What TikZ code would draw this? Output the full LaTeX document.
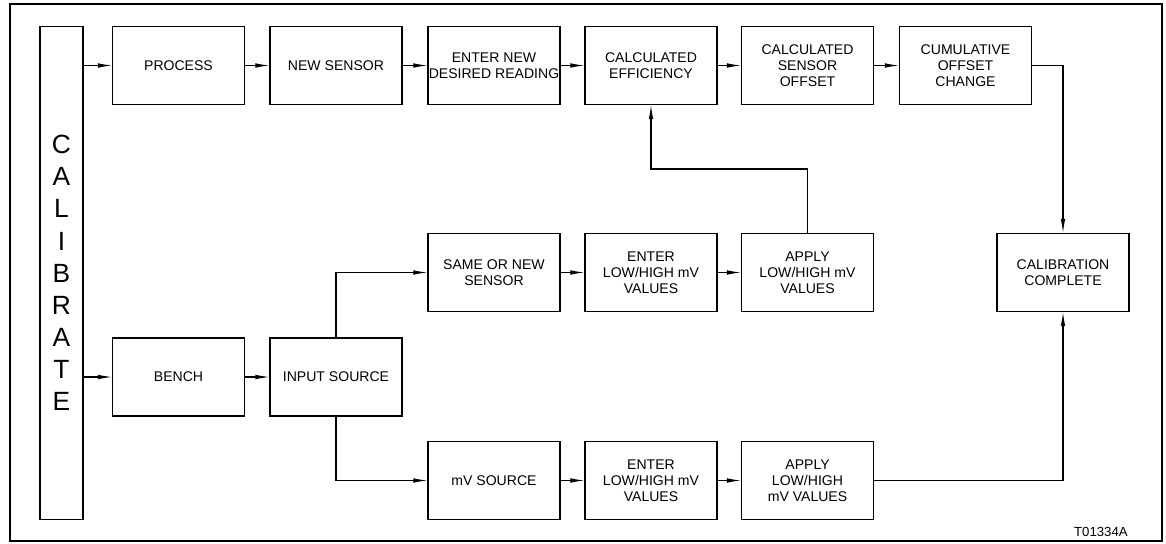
\documentclass[tikz,border=0pt]{standalone}
\usepackage{fontspec}
\setmainfont{Liberation Sans}
\usetikzlibrary{arrows.meta}
\begin{document}
\begin{tikzpicture}[x=0.02cm,y=-0.02cm,line width=0.6pt,
  >={Latex[length=8pt,width=2.6pt]},
  blk/.style={draw,minimum width=2.64cm,minimum height=1.56cm,inner sep=0pt,align=center,
    font=\fontsize{8}{9}\selectfont},
  calbar/.style={draw,minimum width=0.86cm,minimum height=9.88cm,inner sep=0pt,align=center,
    font=\fontsize{15}{18.3}\selectfont}]
\useasboundingbox (0,0) rectangle (1166,544);
\draw (10,4) rectangle (1162,541);
\node[calbar] (cal) at (61.5,273) {C\\A\\L\\I\\B\\R\\A\\T\\E};
\node[blk] (proc) at (178.5,65.5) {PROCESS};
\node[blk] (newsens) at (336,65.5) {NEW SENSOR};
\node[blk] (desired) at (494,65.5) {ENTER NEW\\DESIRED READING};
\node[blk] (calceff) at (651,65.5) {CALCULATED\\EFFICIENCY};
\node[blk] (calcoff) at (807.5,65.5) {CALCULATED\\SENSOR\\OFFSET};
\node[blk] (cumoff) at (965.5,65.5) {CUMULATIVE\\OFFSET\\CHANGE};
\node[blk] (samenew) at (494,272.5) {SAME OR NEW\\SENSOR};
\node[blk] (enterA) at (651,272.5) {ENTER\\LOW/HIGH mV\\VALUES};
\node[blk] (applyA) at (807.5,272.5) {APPLY\\LOW/HIGH mV\\VALUES};
\node[blk] (done) at (1063,272.5) {CALIBRATION\\COMPLETE};
\node[blk] (bench) at (178.5,377) {BENCH};
\node[blk] (insrc) at (336,377) {INPUT SOURCE};
\node[blk] (mvsrc) at (494,480.5) {mV SOURCE};
\node[blk] (enterB) at (651,480.5) {ENTER\\LOW/HIGH mV\\VALUES};
\node[blk] (applyB) at (807.5,480.5) {APPLY\\LOW/HIGH\\mV VALUES};
\node[anchor=east,font=\fontsize{7.5}{9}\selectfont] (tag) at (1134,532) {T01334A};
\draw[->] (cal.east |- proc) -- (proc);
\draw[->] (proc) -- (newsens);
\draw[->] (newsens) -- (desired);
\draw[->] (desired) -- (calceff);
\draw[->] (calceff) -- (calcoff);
\draw[->] (calcoff) -- (cumoff);
\draw[->] (cumoff.east) -| (done.north);
\draw[->] (applyA.north) -- ++(0,-64) -| (calceff.south);
\draw[->] (cal.east |- bench) -- (bench);
\draw[->] (bench) -- (insrc);
\draw[->] (insrc.north) |- (samenew.west);
\draw[->] (insrc.south) |- (mvsrc.west);
\draw[->] (samenew) -- (enterA);
\draw[->] (enterA) -- (applyA);
\draw[->] (mvsrc) -- (enterB);
\draw[->] (enterB) -- (applyB);
\draw[->] (applyB.east) -| (done.south);
\end{tikzpicture}
\end{document}
